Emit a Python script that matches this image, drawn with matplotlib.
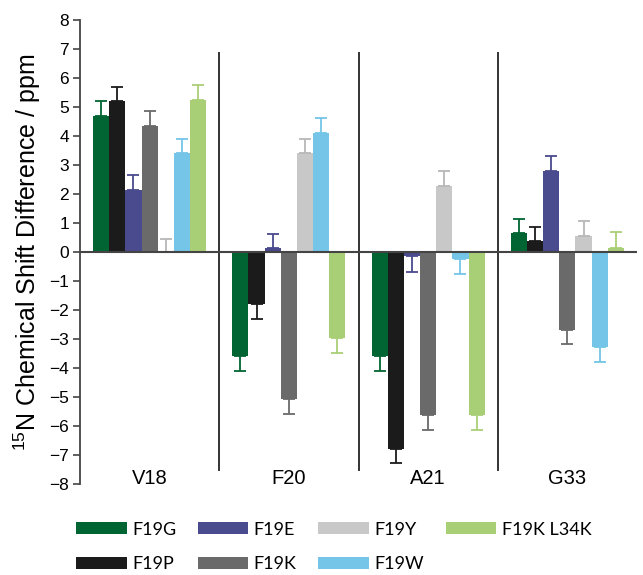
import numpy as np
import matplotlib
matplotlib.use('Agg')
import matplotlib.pyplot as plt

plt.rcParams['font.family'] = ['Liberation Sans', 'DejaVu Sans']
plt.rcParams['mathtext.fontset'] = 'custom'
plt.rcParams['mathtext.rm'] = 'Liberation Sans'

residues = ['V18', 'F20', 'A21', 'G33']
mutants = ['F19G', 'F19P', 'F19E', 'F19K', 'F19Y', 'F19W', 'F19K L34K']
colors = ['#006532', '#1b1b1b', '#4a4a8e', '#6a6a6a', '#c8c8c8', '#74c5e8', '#a9cf76']

# values per mutant, one value per residue (V18, F20, A21, G33)
f19g = [4.7, -3.6, -3.6, 0.65]
f19p = [5.2, -1.8, -6.8, 0.37]
f19e = [2.15, 0.13, -0.15, 2.78]
f19k = [4.35, -5.07, -5.63, -2.68]
f19y = [0.0, 3.4, 2.26, 0.54]
f19w = [3.4, 4.1, -0.24, -3.29]
f19k_l34k = [5.25, -2.97, -5.63, 0.14]

err_g = [0.52, 0.5, 0.5, 0.5]
err_p = [0.5, 0.5, 0.48, 0.5]
err_e = [0.52, 0.48, 0.54, 0.54]
err_k = [0.52, 0.52, 0.5, 0.5]
err_y = [0.46, 0.5, 0.52, 0.52]
err_w = [0.5, 0.52, 0.52, 0.5]
err_l = [0.5, 0.5, 0.5, 0.55]

values = [f19g, f19p, f19e, f19k, f19y, f19w, f19k_l34k]
errors = [err_g, err_p, err_e, err_k, err_y, err_w, err_l]

fig = plt.figure(figsize=(6.43, 5.75), dpi=100)
ax = fig.add_axes([80/643, 1-484/575, 557/643, 464/575])

x = np.arange(len(residues))
w = 0.116
for i, (name, vals, errs, c) in enumerate(zip(mutants, values, errors, colors)):
    vals = np.array(vals)
    errs = np.array(errs)
    pos = x + (i - 3) * w
    ax.bar(pos, vals, w, color=c, label=name, zorder=2)
    lower = np.where(vals < 0, errs, 0)
    upper = np.where(vals >= 0, errs, 0)
    ax.errorbar(pos, vals, yerr=[lower, upper], fmt='none', ecolor=c if c != '#c8c8c8' else '#b8b8b8',
                elinewidth=1.3, capsize=4, capthick=1.3, zorder=3)

ax.axhline(0, color='#444444', lw=1.5, zorder=4)
for s in [0.5, 1.5, 2.5]:
    ax.plot([s, s], [-7.5, 6.85], color='#333333', lw=1.4, zorder=1)

for xi, r in zip(x, residues):
    ax.text(xi, -7.8, r, ha='center', va='center', fontsize=14.5)

ax.set_xlim(-0.5, 3.5)
ax.set_ylim(-8, 8)
ax.set_yticks(range(-8, 9))
ax.set_xticks([])
ax.tick_params(axis='y', labelsize=12.5, length=5, width=1.2, color='#444444', pad=3)
for s in ['top', 'right', 'bottom']:
    ax.spines[s].set_visible(False)
ax.spines['left'].set_color('#444444')
ax.spines['left'].set_linewidth(1.3)
ax.set_ylabel(r'$\mathregular{^{15}}$N Chemical Shift Difference / ppm', fontsize=18, labelpad=4)

fig.legend(loc='center left', bbox_to_anchor=(76/643, 1-547/575), ncol=4, frameon=False,
           prop={'family': 'Lato', 'size': 13}, handlelength=2.8, handleheight=0.6,
           handletextpad=0.3, columnspacing=1.2, labelspacing=1.05, borderpad=0, borderaxespad=0)

fig.savefig('out.png', dpi=100)
